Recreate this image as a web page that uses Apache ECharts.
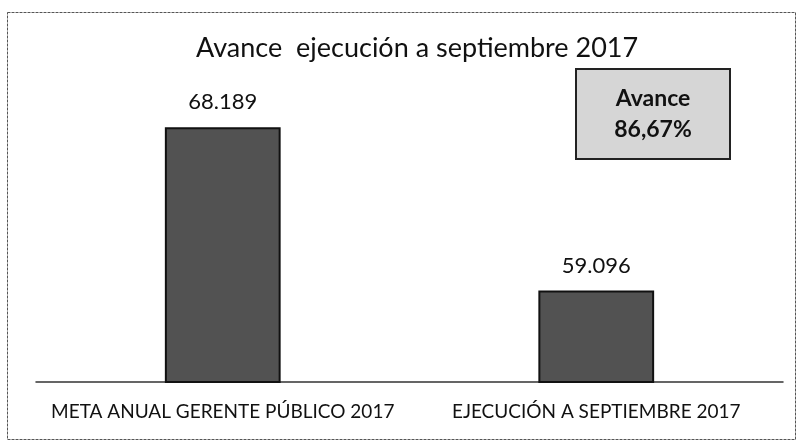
<!DOCTYPE html>
<html>
<head>
<meta charset="utf-8">
<script src="https://cdn.jsdelivr.net/npm/echarts@6/dist/echarts.min.js"></script>
<style>
  html, body { margin: 0; padding: 0; background: #fff; }
  #chart { width: 798px; height: 440px; }
</style>
</head>
<body>
<div id="chart"></div>
<script>
const categories = ["META ANUAL GERENTE PÚBLICO 2017", "EJECUCIÓN A SEPTIEMBRE 2017"];
const values = [68.189, 59.096];
const valueLabels = ["68.189", "59.096"];
const avanceLines = ["Avance", "86,67%"];

const chart = echarts.init(document.getElementById("chart"));

const font = "Lato, 'Open Sans', sans-serif";

const options = {
  backgroundColor: "#ffffff",
  title: {
    text: "Avance  ejecución a septiembre 2017",
    left: 191,
    top: 30,
    textStyle: {
      fontFamily: font,
      fontWeight: "normal",
      fontSize: 27,
      color: "#111",
    },
  },
  grid: {
    left: 36,
    right: 15,
    top: 23,
    bottom: 58,
  },
  xAxis: {
    type: "category",
    data: categories,
    axisTick: { show: false },
    axisLine: { lineStyle: { color: "#333", width: 1.5 } },
    axisLabel: {
      interval: 0,
      margin: 20,
      fontFamily: font,
      fontSize: 19,
      color: "#111",
    },
  },
  yAxis: {
    type: "value",
    min: 54,
    max: 74,
    show: false,
    splitLine: { show: false },
  },
  series: [
    {
      type: "bar",
      data: values,
      barWidth: "31%",
      itemStyle: {
        color: "#525252",
        borderColor: "#111",
        borderWidth: 2,
      },
      label: {
        show: true,
        position: "top",
        distance: 14,
        formatter: (p) => valueLabels[p.dataIndex],
        fontFamily: font,
        fontSize: 22,
        color: "#111",
      },
    },
  ],
  graphic: [
    {
      type: "rect",
      left: 5,
      top: 10,
      shape: { width: 788, height: 427 },
      style: { fill: "none", stroke: "#555", lineWidth: 1, lineDash: [3, 1] },
      silent: true,
    },
    {
      type: "group",
      left: 575,
      top: 68,
      children: [
        {
          type: "rect",
          shape: { width: 154, height: 90 },
          style: { fill: "#d6d6d6", stroke: "#222", lineWidth: 2 },
        },
        {
          type: "text",
          x: 77,
          y: 45,
          style: {
            text: avanceLines.join("\n"),
            fill: "#111",
            font: "bold 23px " + font,
            align: "center",
            verticalAlign: "middle",
            lineHeight: 31,
          },
        },
      ],
    },
  ],
};

chart.setOption(options);
</script>
</body>
</html>
